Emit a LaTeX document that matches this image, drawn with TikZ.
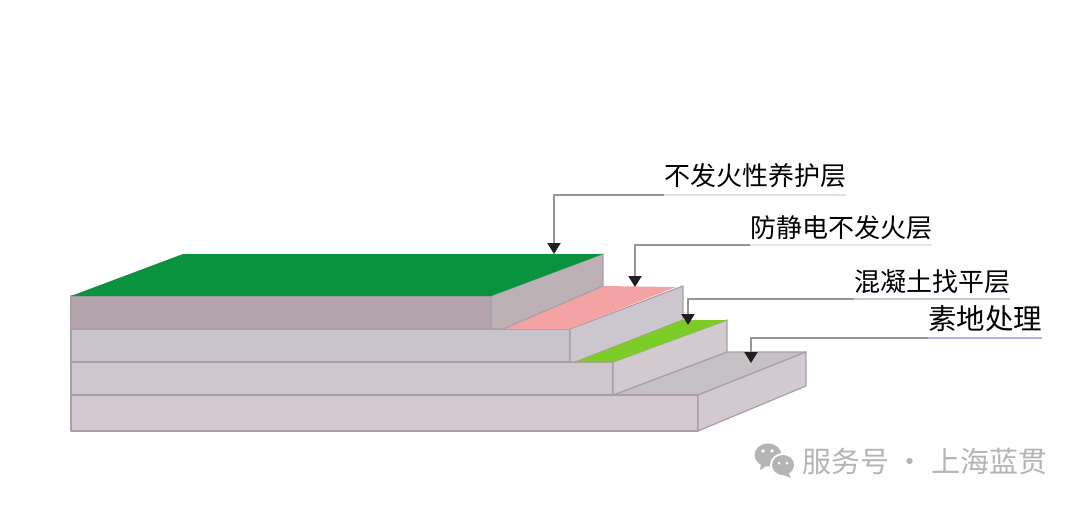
\documentclass[tikz,border=0pt]{standalone}
\usepackage{fontspec}
\setmainfont{Noto Sans CJK SC}
\usetikzlibrary{arrows.meta}
\definecolor{edgec}{HTML}{A99FA7}
\definecolor{leaderc}{HTML}{969696}
\definecolor{markc}{HTML}{B4B4B4}
\definecolor{fronta}{HTML}{B4A6AC}
\definecolor{sidea}{HTML}{BDB1B6}
\definecolor{frontb}{HTML}{C9C4CB}
\definecolor{sideb}{HTML}{CCC7CE}
\definecolor{frontc}{HTML}{CFC7CD}
\definecolor{sidec}{HTML}{D1CACF}
\definecolor{frontd}{HTML}{D4C9D0}
\definecolor{sided}{HTML}{D2CAD0}
\definecolor{topd}{HTML}{C6C1C5}
\definecolor{greena}{HTML}{0A933F}
\definecolor{pinka}{HTML}{F4A3A5}
\definecolor{greenb}{HTML}{7CCB26}
\definecolor{ulinec}{HTML}{C3CAD8}
\tikzset{
  face/.style={draw=edgec,line width=1.2pt,line join=round},
  lab/.style={anchor=south west,inner sep=0pt,text=black,text height=24pt},
  leader/.style={draw=leaderc,line width=2pt,-{Triangle[width=13pt,length=11pt,color=black!88]}},
  uline/.style={draw=ulinec,line width=1.6pt},
  wm/.style={inner sep=0pt,text=markc,anchor=west}
}
\begin{document}
\begin{tikzpicture}[x=1pt,y=-1pt]
\useasboundingbox (0,0) rectangle (1080,504);
% bottom layer
\fill[topd,face] (613,395) -- (698,395) -- (806,352) -- (727,352) -- cycle;
\fill[frontd,face] (71,395) -- (698,395) -- (698,431) -- (71,431) -- cycle;
\fill[sided,face] (698,395) -- (806,352) -- (806,386) -- (698,431) -- cycle;
% third layer
\fill[frontc,face] (71,362) -- (613,362) -- (613,395) -- (71,395) -- cycle;
\fill[sidec,face] (613,362) -- (727,320) -- (727,352) -- (613,395) -- cycle;
% second layer
\fill[frontb,face] (71,329) -- (570,329) -- (570,362) -- (71,362) -- cycle;
\fill[sideb,face] (570,329) -- (683,286) -- (683,320) -- (575,362) -- (570,362) -- cycle;
\fill[greenb] (575,362) -- (613,362) -- (727,320) -- (682,320) -- cycle;
\fill[pinka] (503,329) -- (569,329) -- (676,287) -- (603,286) -- cycle;
% top layer
\fill[fronta,face] (71,296) -- (491,296) -- (491,329) -- (71,329) -- cycle;
\fill[sidea,face] (491,296) -- (603,254) -- (603,286) -- (503,329) -- (491,329) -- cycle;
\fill[greena] (71,296) -- (183,254) -- (603,254) -- (491,296) -- cycle;
% targets
\coordinate (ta) at (554,254);
\coordinate (tb) at (635,287);
\coordinate (tc) at (688,325);
\coordinate (td) at (751,363);
% labels
\node[lab,font=\fontsize{26pt}{27pt}\selectfont,text depth=9pt] (la) at (664,195) {不发火性养护层};
\node[lab,font=\fontsize{26pt}{27pt}\selectfont,text depth=7pt] (lb) at (750,245) {防静电不发火层};
\node[lab,font=\fontsize{26pt}{27pt}\selectfont,text depth=7pt] (lc) at (854,299) {混凝土找平层};
\node[lab,font=\fontsize{28.5pt}{29pt}\selectfont,text depth=8pt] (ld) at (928,338) {素地处理};
% underlines and connectors
\draw[uline,draw=ulinec!55] (la.south west) -- (la.south east);
\draw[uline,draw=ulinec!45] (lb.south west) -- (lb.south east);
\draw[uline] (lc.south west) -- (lc.south east);
\draw[uline,draw=ulinec!90!blue] (ld.south west) -- (ld.south east);
\draw[leader] (la.south west) -| (ta);
\draw[leader] (lb.south west) -| (tb);
\draw[leader] (lc.south west) -| (tc);
\draw[leader] (ld.south west) -| (td);
% watermark
\fill[markc] (768,455) ellipse [x radius=13.5pt,y radius=11.5pt];
\fill[markc] (761,463) -- (760,470) -- (768,465) -- cycle;
\fill[white] (783,465) ellipse [x radius=13pt,y radius=12pt];
\fill[markc] (783,465) ellipse [x radius=11pt,y radius=10pt];
\fill[markc] (788,472) -- (791,478) -- (781,474) -- cycle;
\fill[white] (763,451) circle (1.8pt) (772,451) circle (1.8pt);
\fill[white] (779,463) circle (1.5pt) (787,463) circle (1.5pt);
\node[wm,font=\fontsize{29pt}{30pt}\selectfont] (mark) at (802,461) {服务号 · 上海蓝贯};
\end{tikzpicture}
\end{document}
